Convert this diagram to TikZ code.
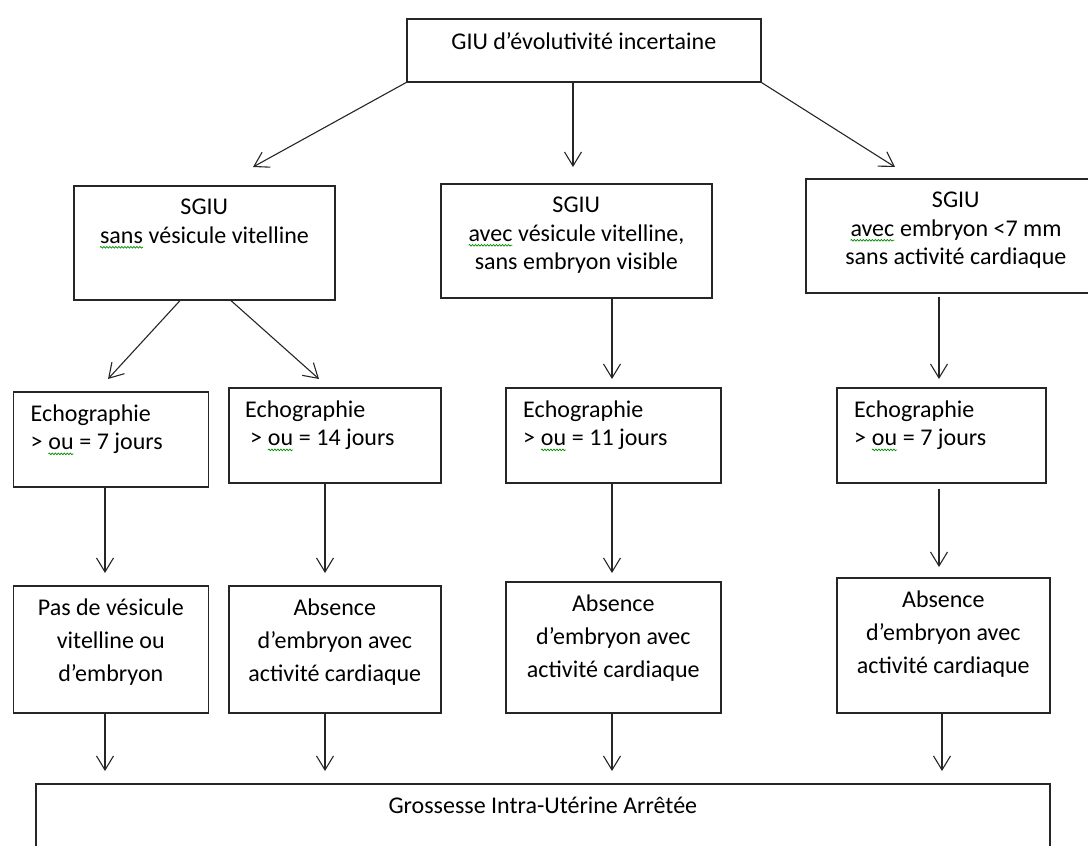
\documentclass[tikz,border=0pt]{standalone}
\usepackage{fontspec}
\setmainfont{Carlito}
\usetikzlibrary{arrows.meta,positioning,calc,decorations.pathmorphing}

% spell-check squiggle as in the source
\newcommand{\sqg}[1]{\tikz[baseline=0pt,x=1pt,y=1pt]{%
  \node[anchor=base, inner sep=0pt, outer sep=0pt, draw=none] (w) at (0,0) {#1};
  \draw[green!55!black, line width=0.7pt, decorate,
        decoration={snake, amplitude=0.8pt, segment length=3pt}]
        ([yshift=-4pt]w.base west) -- ([yshift=-4pt]w.base east);}}

\begin{document}
\begin{tikzpicture}[x=1pt,y=-1pt,
    box/.style={draw=black!85, line width=1.6pt, inner sep=0pt, anchor=north west},
    lbl/.style={anchor=north, inner sep=0pt, align=center, font=\fontsize{24}{28.5}\selectfont},
    lbltall/.style={lbl, font=\fontsize{24}{33}\selectfont},
    lblleft/.style={anchor=north west, inner sep=0pt, align=left, font=\fontsize{24}{28}\selectfont},
    arr/.style={-{Straight Barb[length=14pt,width=17pt,line width=1.1pt]}, line width=1.1pt, black!85}]
  \useasboundingbox (0,0) rectangle (1088,846);

  % first level
  \node[box, minimum width=354, minimum height=63,
        label={[lbl, yshift=-14]north:GIU d’évolutivité incertaine}] (giu) at (406,18) {};

  \node[box, minimum width=261, minimum height=114,
        label={[lbl, yshift=-14]north:SGIU\\\sqg{sans} vésicule vitelline}] (sgiuA) at (73,185) {};
  \node[box, minimum width=271, minimum height=114,
        label={[lbl, yshift=-14]north:SGIU\\\sqg{avec} vésicule vitelline,\\sans embryon visible}] (sgiuB) at (440,183) {};
  \node[box, minimum width=300, minimum height=114,
        label={[lbl, yshift=-14]north:SGIU\\\sqg{avec} embryon <7 mm\\sans activité cardiaque}] (sgiuC) at (805,178) {};

  % echographies
  \node[box, minimum width=195, minimum height=95,
        label={[lblleft, xshift=18, yshift=-14]north west:Echographie\\> \sqg{ou} = 7 jours}] (echoA) at (12.5,391) {};
  \node[box, minimum width=212, minimum height=95,
        label={[lblleft, xshift=17, yshift=-14]north west:Echographie\\\hspace{5pt}> \sqg{ou} = 14 jours}] (echoB) at (228,387) {};
  \node[box, minimum width=215, minimum height=95,
        label={[lblleft, xshift=18, yshift=-14]north west:Echographie\\> \sqg{ou} = 11 jours}] (echoC) at (505,387) {};
  \node[box, minimum width=209, minimum height=95,
        label={[lblleft, xshift=18, yshift=-14]north west:Echographie\\> \sqg{ou} = 7 jours}] (echoD) at (836,387) {};

  % results
  \node[box, minimum width=195, minimum height=127,
        label={[lbltall, yshift=-14]north:Pas de vésicule\\vitelline ou\\d’embryon}] (resA) at (12.5,585) {};
  \node[box, minimum width=212, minimum height=127,
        label={[lbltall, yshift=-14]north:Absence\\d’embryon avec\\activité cardiaque}] (resB) at (228,585) {};
  \node[box, minimum width=215, minimum height=131,
        label={[lbltall, yshift=-14]north:Absence\\d’embryon avec\\activité cardiaque}] (resC) at (505,581) {};
  \node[box, minimum width=213, minimum height=135,
        label={[lbltall, yshift=-14]north:Absence\\d’embryon avec\\activité cardiaque}] (resD) at (836,577) {};

  \node[box, minimum width=1014, minimum height=110,
        label={[lbl, yshift=-14]north:Grossesse Intra-Utérine Arrêtée}] (giua) at (35,783) {};

  % arrow tips
  \coordinate (t1) at (253,167);
  \coordinate (t2) at (573,167);
  \coordinate (t3) at (895,167);
  \coordinate (u1) at (108,379);
  \coordinate (u2) at (319,379);
  \coordinate (u3) at (612,379);
  \coordinate (u4) at (939,379);
  \coordinate (v1) at (105,573);
  \coordinate (v2) at (325,573);
  \coordinate (v3) at (612,573);
  \coordinate (v4) at (939,567);
  \coordinate (w1) at (105,771);
  \coordinate (w2) at (325,771);
  \coordinate (w3) at (612,771);
  \coordinate (w4) at (942,771);

  \draw[arr] (giu.south west) -- (t1);
  \draw[arr] (giu.south -| t2) -- (t2);
  \draw[arr] (giu.south east) -- (t3);

  \draw[arr] ($(sgiuA.south west)+(107,0)$) -- (u1);
  \draw[arr] ($(sgiuA.south west)+(158,0)$) -- (u2);
  \draw[arr] (sgiuB.south -| u3) -- (u3);
  \draw[arr] ($(sgiuC.south -| u4)+(0,3)$) -- (u4);

  \draw[arr] (echoA.south -| v1) -- (v1);
  \draw[arr] (echoB.south -| v2) -- (v2);
  \draw[arr] (echoC.south -| v3) -- (v3);
  \draw[arr] ($(echoD.south -| v4)+(0,5)$) -- (v4);

  \draw[arr] (resA.south -| w1) -- (w1);
  \draw[arr] (resB.south -| w2) -- (w2);
  \draw[arr] (resC.south -| w3) -- (w3);
  \draw[arr] (resD.south -| w4) -- (w4);
\end{tikzpicture}
\end{document}
